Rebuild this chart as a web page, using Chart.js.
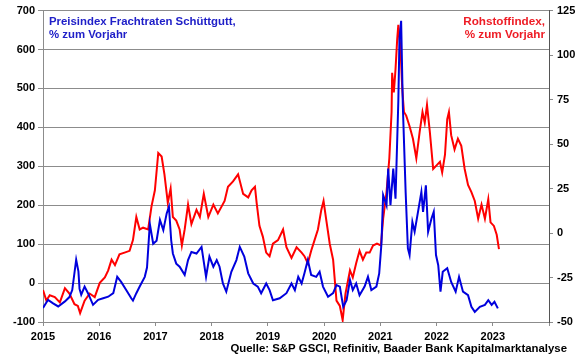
<!DOCTYPE html>
<html>
<head>
<meta charset="utf-8">
<script src="https://cdn.jsdelivr.net/npm/chart.js@4.4.0/dist/chart.umd.min.js"></script>
<style>
  html, body { margin: 0; padding: 0; background: #fff; }
  #wrap { position: relative; width: 580px; height: 359px; }
</style>
</head>
<body>
<div id="wrap"><canvas id="chart"></canvas></div>
<script>
// Jahresachse
const years = ['2015', '2016', '2017', '2018', '2019', '2020', '2021', '2022', '2023'];

// Preisindex Frachtraten Schüttgutt, % zum Vorjahr (linke Achse)
const blueDates = [2015.00, 2015.09, 2015.18, 2015.27, 2015.39, 2015.47, 2015.52, 2015.59, 2015.63, 2015.65, 2015.68, 2015.74, 2015.80, 2015.89, 2015.98,
  2016.07, 2016.16, 2016.25, 2016.32, 2016.39, 2016.48, 2016.57, 2016.60, 2016.66, 2016.72, 2016.81, 2016.85, 2016.90, 2016.96,
  2017.02, 2017.08, 2017.14, 2017.20, 2017.24, 2017.28, 2017.31, 2017.37, 2017.43, 2017.52, 2017.58, 2017.64, 2017.73, 2017.82, 2017.90, 2017.96,
  2018.03, 2018.09, 2018.14, 2018.20, 2018.26, 2018.35, 2018.44, 2018.50, 2018.58, 2018.65, 2018.74, 2018.82, 2018.88, 2018.97,
  2019.03, 2019.09, 2019.21, 2019.33, 2019.42, 2019.48, 2019.54, 2019.60, 2019.65, 2019.71, 2019.77, 2019.86, 2019.92, 2019.98,
  2020.07, 2020.16, 2020.22, 2020.28, 2020.34, 2020.40, 2020.46, 2020.51, 2020.57, 2020.63, 2020.72, 2020.78, 2020.84, 2020.93, 2020.98,
  2021.02, 2021.05, 2021.11, 2021.14, 2021.18, 2021.23, 2021.27, 2021.32, 2021.34, 2021.37, 2021.40, 2021.45, 2021.49, 2021.52, 2021.57,
  2021.61, 2021.67, 2021.73, 2021.76, 2021.81, 2021.85, 2021.91, 2021.95, 2021.99,
  2022.03, 2022.07, 2022.11, 2022.19, 2022.26, 2022.34, 2022.40, 2022.47, 2022.56, 2022.62, 2022.68, 2022.77, 2022.86, 2022.92, 2022.98,
  2023.03, 2023.09];
const blueValues = [-64, -43, -52, -60, -47, -36, -18, 60, 30, -15, -30, -9, -26, -56, -43,
  -39, -35, -26, 16, 3, -18, -39, -45, -26, -9, 16, 40, 152, 101,
  109, 162, 136, 179, 196, 110, 76, 50, 42, 21, 59, 80, 76, 93, 16, 68,
  42, 59, 42, -1, -22, 29, 59, 93, 68, 25, -1, -9, -26, -1,
  -18, -44, -39, -26, -1, -18, 16, -1, 25, 59, 21, 16, 29, -9,
  -35, -26, -5, -9, -61, -44, 8, -18, -1, -31, -9, 16, -18, -9, 25,
  102, 226, 200, 294, 200, 294, 217, 467, 627, 674, 456, 234, 89, 72, 157,
  132, 183, 234, 183, 251, 132, 166, 183, 72,
  46, -22, 29, 38, 3, -22, 16, -22, -31, -61, -74, -61, -56, -44, -56,
  -48, -65];

// Rohstoffindex, % zum Vorjahr (rechte Achse)
const redDates = [2015.00, 2015.06, 2015.12, 2015.21, 2015.30, 2015.39, 2015.47, 2015.56, 2015.62, 2015.66, 2015.74, 2015.83, 2015.92,
  2016.01, 2016.10, 2016.16, 2016.22, 2016.28, 2016.36, 2016.45, 2016.54, 2016.60, 2016.66, 2016.72, 2016.78, 2016.87, 2016.93, 2016.99,
  2017.05, 2017.11, 2017.16, 2017.22, 2017.27, 2017.31, 2017.37, 2017.43, 2017.47, 2017.52, 2017.58, 2017.64, 2017.73, 2017.79, 2017.86, 2017.94,
  2018.03, 2018.11, 2018.23, 2018.29, 2018.38, 2018.47, 2018.56, 2018.65, 2018.71, 2018.77, 2018.80, 2018.85, 2018.91, 2018.97,
  2019.03, 2019.09, 2019.18, 2019.27, 2019.33, 2019.42, 2019.51, 2019.60, 2019.65, 2019.71, 2019.77, 2019.83, 2019.89, 2019.95, 2019.99,
  2020.04, 2020.10, 2020.16, 2020.22, 2020.28, 2020.33, 2020.38, 2020.46, 2020.51, 2020.57, 2020.63, 2020.69, 2020.75, 2020.81, 2020.87, 2020.94,
  2021.01, 2021.05, 2021.11, 2021.16, 2021.20, 2021.21, 2021.24, 2021.27, 2021.30, 2021.32, 2021.36, 2021.39, 2021.42, 2021.46, 2021.52,
  2021.58, 2021.64, 2021.70, 2021.75, 2021.79, 2021.83, 2021.88, 2021.94,
  2022.00, 2022.06, 2022.10, 2022.15, 2022.19, 2022.22, 2022.26, 2022.32, 2022.38, 2022.44, 2022.50, 2022.56, 2022.62, 2022.68, 2022.74,
  2022.80, 2022.86, 2022.92, 2022.96, 2023.02, 2023.07, 2023.11];
const redValues = [-32, -38, -35, -36, -39, -31, -34, -40, -41, -45, -38, -34, -36,
  -28, -25, -21, -15, -18, -12, -11, -10, -4, 9, 2, 3, 2, 15, 24,
  45, 43, 33, 17, 25, 9, 7, 2, -7, 2, 16, 5, 13, 9, 22, 9,
  16, 11, 18, 26, 29, 33, 22, 20, 24, 26, 17, 4, -2, -11,
  -13, -6, -4, 2, -8, -14, -8, -11, -13, -17, -10, -4, 2, 13, 18,
  7, -6, -15, -38, -41, -49, -34, -21, -25, -17, -10, -15, -11, -11, -7, -6,
  -7, 8, 23, 42, 68, 90, 79, 92, 109, 117, 103, 81, 68, 66, 60,
  53, 42, 57, 68, 62, 72, 57, 36,
  38, 40, 34, 44, 64, 68, 55, 47, 53, 49, 36, 27, 23, 18, 8,
  16, 8, 19, 6, 4, -1, -9];

const blueLabel = ['Preisindex Frachtraten Schüttgutt,', '% zum Vorjahr'];
const redLabel = ['Rohstoffindex,', '% zum Vorjahr'];
const sourceText = 'Quelle: S&P GSCI, Refinitiv, Baader Bank Kapitalmarktanalyse';

const FONT = '"Liberation Sans", Arial, sans-serif';
const BLUE = '#0000dd';
const RED = '#ff0000';
const GRID = '#8c8c8c';

const toPoints = (dates, values) => dates.map((d, i) => ({ x: d, y: values[i] }));

// Beschriftungen im Diagramm und Quelle
const textPlugin = {
  id: 'texts',
  afterDraw(chart) {
    const ctx = chart.ctx;
    ctx.save();
    ctx.font = 'bold 11.4px ' + FONT;
    ctx.textBaseline = 'alphabetic';
    ctx.textAlign = 'left';
    ctx.fillStyle = '#2020c8';
    ctx.fillText(blueLabel[0], 49, 25);
    ctx.fillText(blueLabel[1], 49, 38);
    ctx.textAlign = 'right';
    ctx.fillStyle = '#ee1c25';
    ctx.font = 'bold 11.7px ' + FONT;
    ctx.fillText(redLabel[0], 545, 25);
    ctx.fillText(redLabel[1], 545, 38);
    ctx.fillStyle = '#000';
    ctx.font = 'bold 11.4px ' + FONT;
    ctx.fillText(sourceText, 567, 352);
    ctx.restore();
  }
};

new Chart(document.getElementById('chart'), {
  type: 'line',
  data: {
    datasets: [
      { label: blueLabel.join(' '), data: toPoints(blueDates, blueValues), yAxisID: 'y', borderColor: BLUE, borderWidth: 2, pointRadius: 0, tension: 0 },
      { label: redLabel.join(' '), data: toPoints(redDates, redValues), yAxisID: 'y1', borderColor: RED, borderWidth: 2, pointRadius: 0, tension: 0 }
    ]
  },
  options: {
    responsive: true,
    maintainAspectRatio: false,
    animation: false,
    devicePixelRatio: 1,
    layout: { padding: { top: 10, left: 0, right: 0, bottom: 0 } },
    plugins: { legend: { display: false }, tooltip: { enabled: false } },
    scales: {
      x: {
        type: 'linear',
        min: 2015,
        max: 2024,
        afterFit: (scale) => { scale.height = 37; },
        ticks: {
          stepSize: 1,
          maxRotation: 0,
          padding: 4,
          color: '#000',
          font: { family: FONT, size: 11, weight: 'bold' },
          callback: (value) => years.includes(String(value)) ? String(value) : ''
        },
        grid: { drawOnChartArea: false, drawTicks: true, tickLength: 4, color: GRID },
        border: { color: GRID }
      },
      y: {
        position: 'left',
        min: -100,
        max: 700,
        afterFit: (scale) => { scale.width = 43; },
        ticks: { stepSize: 100, padding: 3, color: '#000', font: { family: FONT, size: 11, weight: 'bold' } },
        grid: { color: GRID, tickLength: 5 },
        border: { color: GRID }
      },
      y1: {
        position: 'right',
        min: -50,
        max: 125,
        afterFit: (scale) => { scale.width = 31; },
        ticks: { stepSize: 25, padding: 4, color: '#000', font: { family: FONT, size: 11, weight: 'bold' } },
        grid: { drawOnChartArea: false, tickLength: 4, color: GRID },
        border: { color: '#555' }
      }
    }
  },
  plugins: [textPlugin]
});
</script>
</body>
</html>
